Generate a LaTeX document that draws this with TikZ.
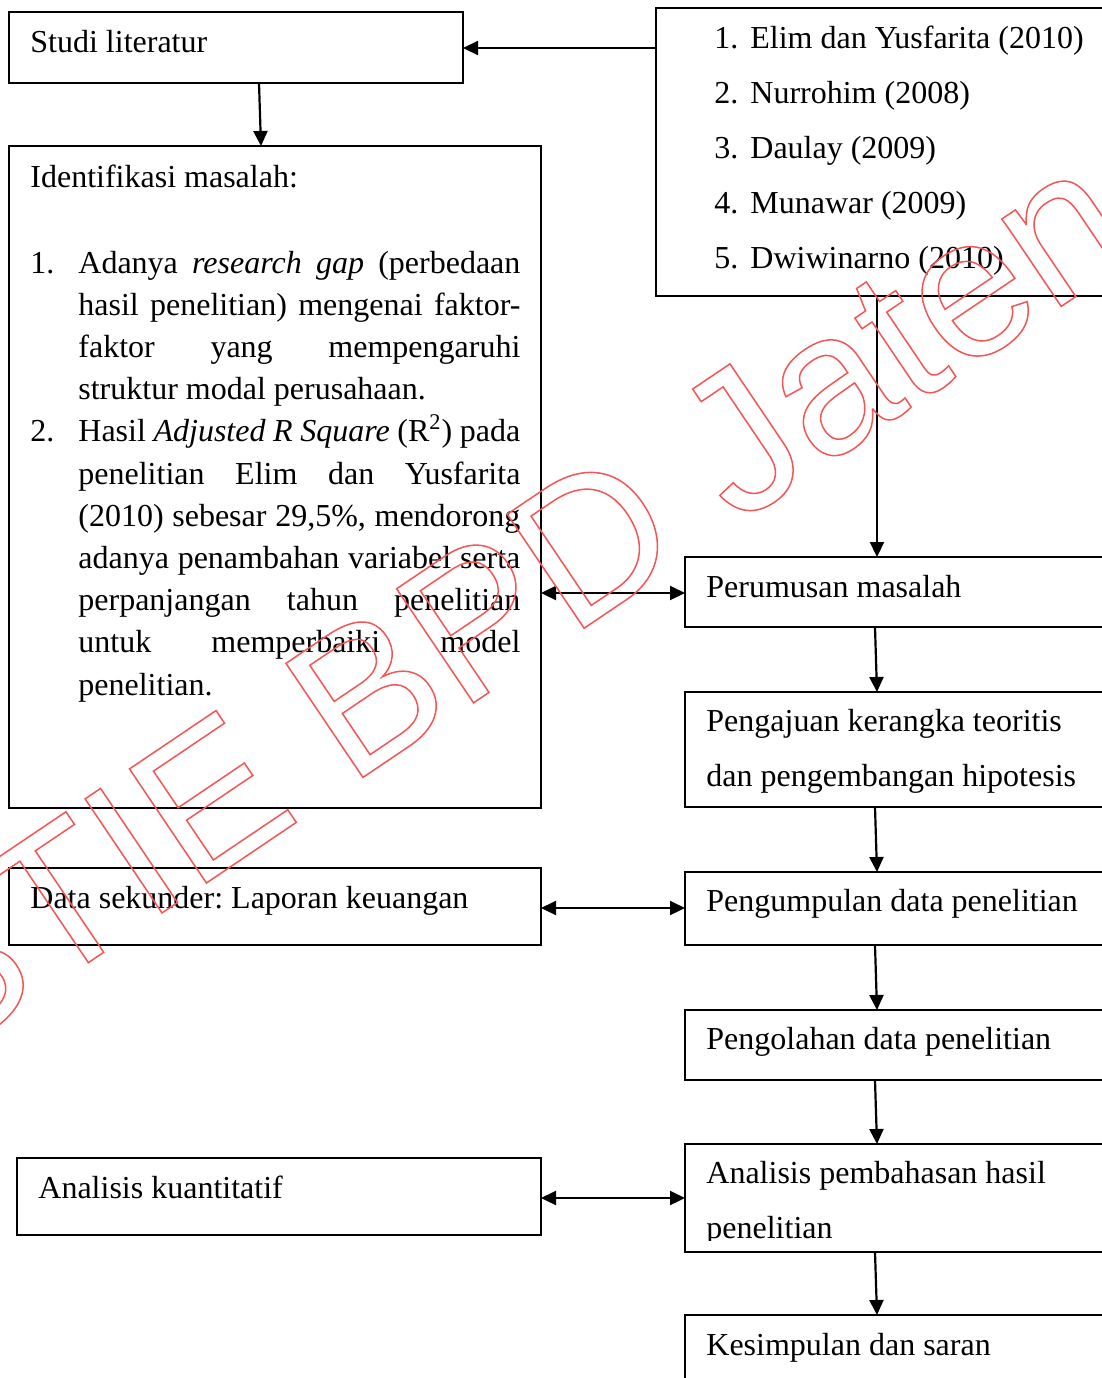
\documentclass[tikz,border=0pt]{standalone}
\usepackage{fontspec}
\setmainfont{Liberation Serif}
\newfontfamily\wmfont{Liberation Sans}
\usetikzlibrary{arrows.meta,fit}
\definecolor{wmred}{RGB}{245,85,85}
\frenchspacing
\tikzset{
  box/.style={draw, line width=1.1pt, inner sep=0pt, outer sep=0pt},
  ln/.style={anchor=base west, inner sep=0pt, font=\fontsize{16}{19}\selectfont\frenchspacing},
  arr/.style={line width=1.1pt, -{Triangle[length=7.5pt,width=7pt]}},
  darr/.style={line width=1.1pt, {Triangle[length=7.5pt,width=7pt]}-{Triangle[length=7.5pt,width=7pt]}},
}
\newcommand{\jline}[1]{\makebox[221pt][s]{#1}}
\begin{document}
\begin{tikzpicture}[x=0.5pt,y=-0.5pt]
\useasboundingbox[fill=white] (0,0) rectangle (1102,1378);

% boxes
\node[box, fit={(9,12) (463,83)}] (A) {};
\node[box, fit={(656,8) (1112,296)}] (L) {};
\node[box, fit={(9,146) (541,808)}] (B) {};
\node[box, fit={(685,557) (1112,627)}] (P1) {};
\node[box, fit={(685,692) (1112,807)}] (P2) {};
\node[box, fit={(685,872) (1112,945)}] (P3) {};
\node[box, fit={(9,868) (541,945)}] (D) {};
\node[box, fit={(685,1010) (1112,1080)}] (P4) {};
\node[box, fit={(685,1144) (1112,1252)}] (P5) {};
\node[box, fit={(17,1158) (541,1235)}] (K) {};
\node[box, fit={(685,1315) (1112,1420)}] (P6) {};

% texts
\node[ln] (tA) at (30,52) {Studi literatur};

\node[ln] (tL1n) at (714,48) {1.};
\node[ln] (tL1) at (750,48) {Elim dan Yusfarita (2010)};
\node[ln] (tL2n) at (714,103) {2.};
\node[ln] (tL2) at (750,103) {Nurrohim (2008)};
\node[ln] (tL3n) at (714,158) {3.};
\node[ln] (tL3) at (750,158) {Daulay (2009)};
\node[ln] (tL4n) at (714,213) {4.};
\node[ln] (tL4) at (750,213) {Munawar (2009)};
\node[ln] (tL5n) at (714,268) {5.};
\node[ln] (tL5) at (750,268) {Dwiwinarno (2010)};

\node[ln] (tB0) at (30,187) {Identifikasi masalah:};
\node[ln] (tB1n) at (30,273) {1.};
\node[ln] (tB1a) at (78,273) {\jline{Adanya \textit{research gap} (perbedaan}};
\node[ln] (tB1b) at (78,315.2) {\jline{hasil penelitian) mengenai faktor-}};
\node[ln] (tB1c) at (78,357.4) {\jline{faktor yang mempengaruhi}};
\node[ln] (tB1d) at (78,399.6) {struktur modal perusahaan.};
\node[ln] (tB2n) at (30,441.8) {2.};
\node[ln] (tB2a) at (78,441.8) {\jline{Hasil \textit{Adjusted R Square} (R\textsuperscript{2}) pada}};
\node[ln] (tB2b) at (78,484) {\jline{penelitian Elim dan Yusfarita}};
\node[ln] (tB2c) at (78,526.2) {\jline{(2010) sebesar 29,5\%, mendorong}};
\node[ln] (tB2d) at (78,568.4) {\jline{adanya penambahan variabel serta}};
\node[ln] (tB2e) at (78,610.6) {\jline{perpanjangan tahun penelitian}};
\node[ln] (tB2f) at (78,652.8) {\jline{untuk memperbaiki model}};
\node[ln] (tB2g) at (78,695) {penelitian.};

\node[ln] (tP1) at (706,597) {Perumusan masalah};
\node[ln] (tP2a) at (706,731) {Pengajuan kerangka teoritis};
\node[ln] (tP2b) at (706,786) {dan pengembangan hipotesis};
\node[ln] (tP3) at (706,911) {Pengumpulan data penelitian};
\node[ln] (tD) at (30,908) {Data sekunder: Laporan keuangan};
\node[ln] (tP4) at (706,1049) {Pengolahan data penelitian};
\node[ln] (tP5a) at (706,1183) {Analisis pembahasan hasil};
\begin{scope}
\clip (685,1144) rectangle (1112,1240);
\node[ln] (tP5b) at (706,1238) {penelitian};
\end{scope}
\node[ln] (tK) at (38,1198) {Analisis kuantitatif};
\node[ln] (tP6) at (706,1355) {Kesimpulan dan saran};

% connectors
\draw[arr] (L.west |- 0,48) -- (A.east |- 0,48);
\draw[arr] (A.south -| 259,0) -- (B.north -| 261,0);
\draw[arr] (L.south -| 877,0) -- (P1.north -| 877,0);
\draw[darr] (B.east |- 0,593) -- (P1.west |- 0,593);
\draw[arr] (P1.south -| 875,0) -- (P2.north -| 877,0);
\draw[arr] (P2.south -| 875,0) -- (P3.north -| 877,0);
\draw[darr] (D.east |- 0,908) -- (P3.west |- 0,908);
\draw[arr] (P3.south -| 875,0) -- (P4.north -| 877,0);
\draw[arr] (P4.south -| 875,0) -- (P5.north -| 877,0);
\draw[darr] (K.east |- 0,1198) -- (P5.west |- 0,1198);
\draw[arr] (P5.south -| 875,0) -- (P6.north -| 877,0);

% watermark
\node[anchor=base west, rotate=34, inner sep=0pt, text=wmred] (wm) at (-65.5,1066.4)
  {\wmfont\fontsize{100}{100}\selectfont\special{pdf:literal direct 1 Tr 0.75 w}STIE BPD Jateng\special{pdf:literal direct 0 Tr}};
\end{tikzpicture}
\end{document}
